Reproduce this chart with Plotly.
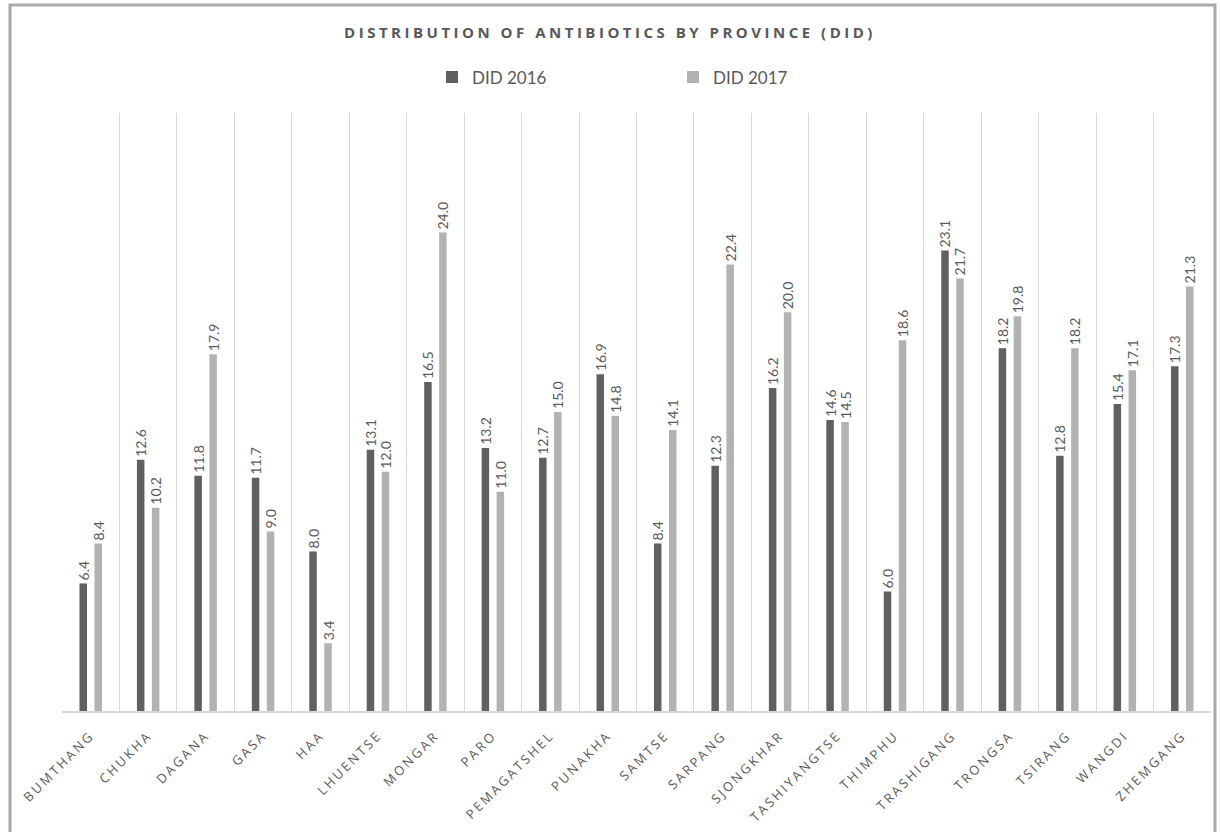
import plotly.graph_objects as go

provinces = ["BUMTHANG", "CHUKHA", "DAGANA", "GASA", "HAA", "LHUENTSE", "MONGAR",
             "PARO", "PEMAGATSHEL", "PUNAKHA", "SAMTSE", "SARPANG", "SJONGKHAR",
             "TASHIYANGTSE", "THIMPHU", "TRASHIGANG", "TRONGSA", "TSIRANG",
             "WANGDI", "ZHEMGANG"]
did_2016 = [6.4, 12.6, 11.8, 11.7, 8.0, 13.1, 16.5, 13.2, 12.7, 16.9,
            8.4, 12.3, 16.2, 14.6, 6.0, 23.1, 18.2, 12.8, 15.4, 17.3]
did_2017 = [8.4, 10.2, 17.9, 9.0, 3.4, 12.0, 24.0, 11.0, 15.0, 14.8,
            14.1, 22.4, 20.0, 14.5, 18.6, 21.7, 19.8, 18.2, 17.1, 21.3]

W, H = 1220, 832
L, R, T, B = 62, 9, 113, 121
TEXT = "#595959"

fig = go.Figure()
for name, vals, color in [("DID 2016", did_2016, "#606060"),
                          ("DID 2017", did_2017, "#b2b2b2")]:
    fig.add_trace(go.Bar(
        x=provinces, y=vals, name=name,
        marker=dict(color=color, line=dict(width=0)),
        texttemplate="%{y:.1f}", textposition="outside", textangle=-90,
        textfont=dict(family="Lato", size=14, color=TEXT),
        constraintext="none", cliponaxis=False,
    ))

# frame around the whole chart, in paper units
pw, ph = W - L - R, H - T - B
def px_x(v):
    return (v - L) / pw
def px_y(v):
    return (H - B - v) / ph

fig.add_shape(type="rect", xref="paper", yref="paper",
              x0=px_x(10), x1=px_x(1215), y0=px_y(834), y1=px_y(5),
              line=dict(color="#a9a9a9", width=3), fillcolor="rgba(0,0,0,0)",
              layer="below")

fig.update_layout(
    width=W, height=H,
    margin=dict(l=L, r=R, t=T, b=B, autoexpand=False),
    paper_bgcolor="white", plot_bgcolor="white",
    barmode="group", bargap=0.478, bargroupgap=0.5,
    font=dict(family="Open Sans", color=TEXT),
    title=dict(text="<b>DISTRIBUTION OF ANTIBIOTICS BY PROVINCE (DID)</b>",
               x=0.5, xref="container", xanchor="center",
               y=1 - 33 / H, yanchor="middle",
               font=dict(family="Open Sans", size=15, color=TEXT)),
    legend=dict(orientation="h", x=432 / W, xref="container", xanchor="left",
                y=1 - 77.5 / H, yref="container", yanchor="middle",
                entrywidth=196, entrywidthmode="pixels",
                font=dict(family="Lato", size=17, color=TEXT),
                itemwidth=30, bgcolor="rgba(0,0,0,0)"),
    xaxis=dict(type="category", tickson="boundaries", showgrid=True,
               gridcolor="#d9d9d9", gridwidth=1, ticks="",
               showline=True, linecolor="#d9d9d9", linewidth=1.5,
               tickangle=-45, ticklabelstandoff=10,
               tickfont=dict(family="Open Sans", size=13, color=TEXT),
               range=[-0.5, len(provinces) - 0.5]),
    yaxis=dict(range=[0, 30], showgrid=False, showticklabels=False,
               zeroline=False, showline=False, ticks=""),
)

# spaced capitals for the title and the province names
spacing_js = """
var gd = document.getElementById('{plot_id}');
function spaceOut() {
  gd.querySelectorAll('.gtitle').forEach(function (t) { t.style.letterSpacing = '3.5px'; });
  gd.querySelectorAll('.xtick text').forEach(function (t) { t.style.letterSpacing = '2.5px'; });
}
spaceOut();
gd.on('plotly_afterplot', spaceOut);
"""

fig.write_html("out.html", post_script=spacing_js)
